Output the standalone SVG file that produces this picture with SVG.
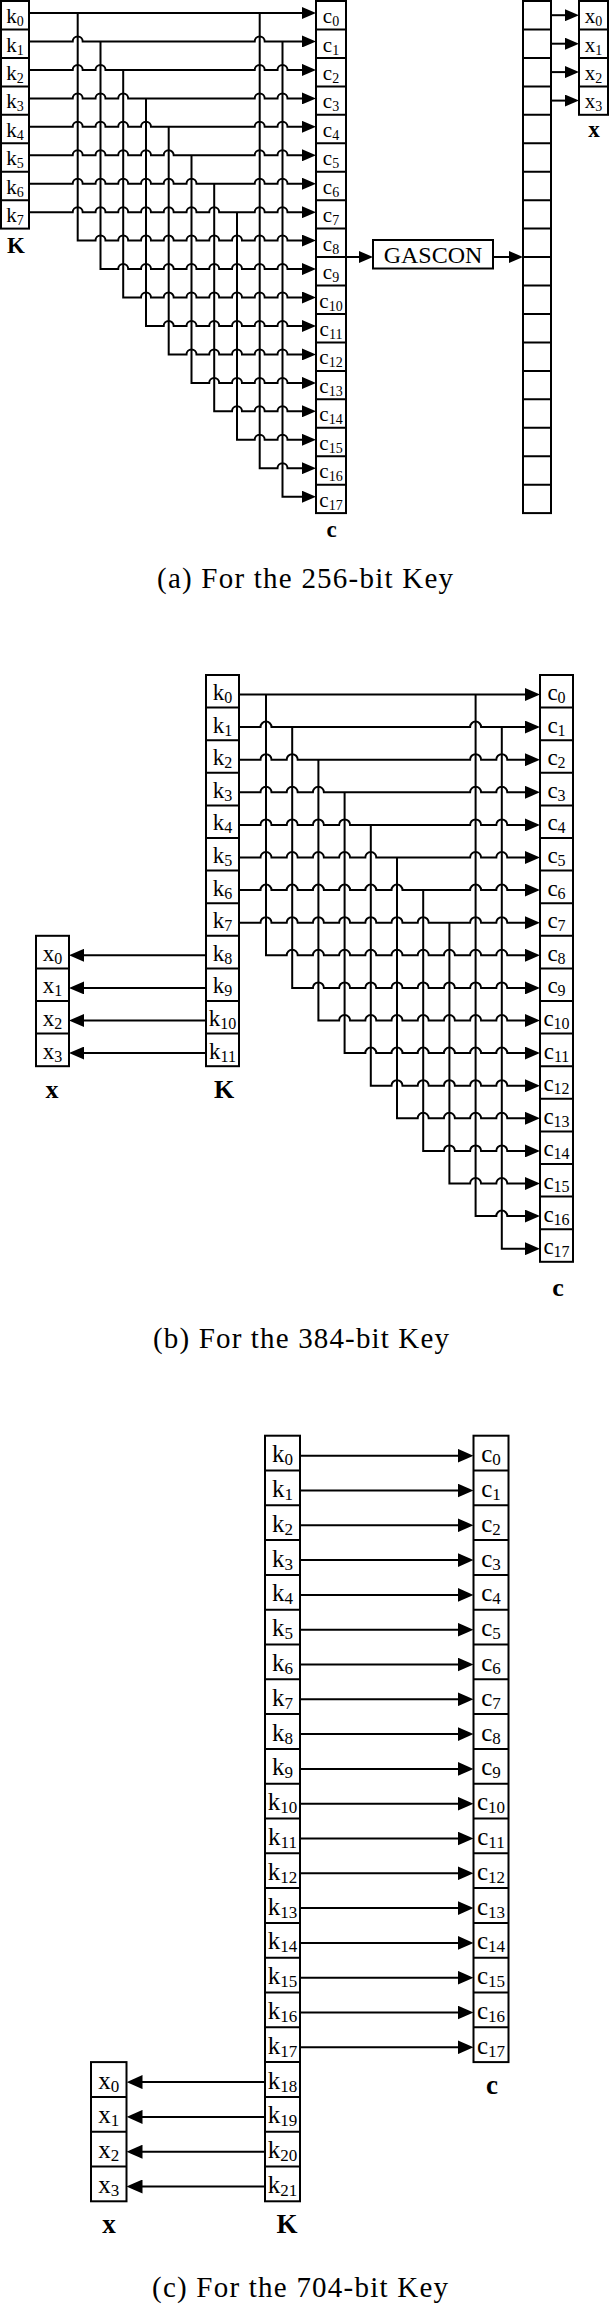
<svg xmlns="http://www.w3.org/2000/svg" width="609" height="2304" viewBox="0 0 609 2304">
<style>
text{font-family:'Liberation Serif','Times New Roman',serif;fill:#000}
.m{text-anchor:middle}
.a{font-size:21px}.a .s{font-size:14px}
.b{font-size:23px}.b .s{font-size:16px}
.c{font-size:25px}.c .s{font-size:17px}
.box{fill:#fff;stroke:#000;stroke-width:2}
.sep{fill:none;stroke:#000;stroke-width:2}
.w{fill:none;stroke:#000;stroke-width:2}
.wa{marker-end:url(#ha)}.wb{marker-end:url(#hb)}.wc{marker-end:url(#hc)}
.lbl{font-weight:bold;text-anchor:middle}
.cap{font-size:29px;text-anchor:middle}
.gas{font-size:24px;text-anchor:middle}
</style>
<defs>
<marker id="ha" markerUnits="userSpaceOnUse" markerWidth="14" markerHeight="12" refX="10" refY="6" orient="auto" viewBox="0 0 14 12"><path d="M0 0L14 6L0 12z"/></marker>
<marker id="hb" markerUnits="userSpaceOnUse" markerWidth="15" markerHeight="13" refX="11" refY="6.5" orient="auto" viewBox="0 0 15 13"><path d="M0 0L15 6.5L0 13z"/></marker>
<marker id="hc" markerUnits="userSpaceOnUse" markerWidth="16" markerHeight="14" refX="12" refY="7" orient="auto" viewBox="0 0 16 14"><path d="M0 0L16 7L0 14z"/></marker>
</defs>

<!-- ===== (a) 256-bit ===== -->
<g id="a-connectors" class="w">
<path class="wa" d="M29 13H312"/>
<path class="wa" d="M29 41.5H72.7a5 5 0 0 1 10 0H254.7a5 5 0 0 1 10 0H312"/>
<path class="wa" d="M29 69.9H72.7a5 5 0 0 1 10 0H95.5a5 5 0 0 1 10 0H254.7a5 5 0 0 1 10 0H277.5a5 5 0 0 1 10 0H312"/>
<path class="wa" d="M29 98.4H72.7a5 5 0 0 1 10 0H95.5a5 5 0 0 1 10 0H118.2a5 5 0 0 1 10 0H254.7a5 5 0 0 1 10 0H277.5a5 5 0 0 1 10 0H312"/>
<path class="wa" d="M29 126.8H72.7a5 5 0 0 1 10 0H95.5a5 5 0 0 1 10 0H118.2a5 5 0 0 1 10 0H141a5 5 0 0 1 10 0H254.7a5 5 0 0 1 10 0H277.5a5 5 0 0 1 10 0H312"/>
<path class="wa" d="M29 155.3H72.7a5 5 0 0 1 10 0H95.5a5 5 0 0 1 10 0H118.2a5 5 0 0 1 10 0H141a5 5 0 0 1 10 0H163.7a5 5 0 0 1 10 0H254.7a5 5 0 0 1 10 0H277.5a5 5 0 0 1 10 0H312"/>
<path class="wa" d="M29 183.7H72.7a5 5 0 0 1 10 0H95.5a5 5 0 0 1 10 0H118.2a5 5 0 0 1 10 0H141a5 5 0 0 1 10 0H163.7a5 5 0 0 1 10 0H186.5a5 5 0 0 1 10 0H254.7a5 5 0 0 1 10 0H277.5a5 5 0 0 1 10 0H312"/>
<path class="wa" d="M29 212.2H72.7a5 5 0 0 1 10 0H95.5a5 5 0 0 1 10 0H118.2a5 5 0 0 1 10 0H141a5 5 0 0 1 10 0H163.7a5 5 0 0 1 10 0H186.5a5 5 0 0 1 10 0H209.2a5 5 0 0 1 10 0H254.7a5 5 0 0 1 10 0H277.5a5 5 0 0 1 10 0H312"/>
<path class="wa" d="M77.7 13V240.6H95.5a5 5 0 0 1 10 0H118.2a5 5 0 0 1 10 0H141a5 5 0 0 1 10 0H163.7a5 5 0 0 1 10 0H186.5a5 5 0 0 1 10 0H209.2a5 5 0 0 1 10 0H232a5 5 0 0 1 10 0H254.7a5 5 0 0 1 10 0H277.5a5 5 0 0 1 10 0H312"/>
<path class="wa" d="M100.5 41.5V269.1H118.2a5 5 0 0 1 10 0H141a5 5 0 0 1 10 0H163.7a5 5 0 0 1 10 0H186.5a5 5 0 0 1 10 0H209.2a5 5 0 0 1 10 0H232a5 5 0 0 1 10 0H254.7a5 5 0 0 1 10 0H277.5a5 5 0 0 1 10 0H312"/>
<path class="wa" d="M123.2 69.9V297.5H141a5 5 0 0 1 10 0H163.7a5 5 0 0 1 10 0H186.5a5 5 0 0 1 10 0H209.2a5 5 0 0 1 10 0H232a5 5 0 0 1 10 0H254.7a5 5 0 0 1 10 0H277.5a5 5 0 0 1 10 0H312"/>
<path class="wa" d="M146 98.4V326H163.7a5 5 0 0 1 10 0H186.5a5 5 0 0 1 10 0H209.2a5 5 0 0 1 10 0H232a5 5 0 0 1 10 0H254.7a5 5 0 0 1 10 0H277.5a5 5 0 0 1 10 0H312"/>
<path class="wa" d="M168.7 126.8V354.4H186.5a5 5 0 0 1 10 0H209.2a5 5 0 0 1 10 0H232a5 5 0 0 1 10 0H254.7a5 5 0 0 1 10 0H277.5a5 5 0 0 1 10 0H312"/>
<path class="wa" d="M191.5 155.3V382.9H209.2a5 5 0 0 1 10 0H232a5 5 0 0 1 10 0H254.7a5 5 0 0 1 10 0H277.5a5 5 0 0 1 10 0H312"/>
<path class="wa" d="M214.2 183.7V411.3H232a5 5 0 0 1 10 0H254.7a5 5 0 0 1 10 0H277.5a5 5 0 0 1 10 0H312"/>
<path class="wa" d="M237 212.2V439.8H254.7a5 5 0 0 1 10 0H277.5a5 5 0 0 1 10 0H312"/>
<path class="wa" d="M259.7 13V468.2H277.5a5 5 0 0 1 10 0H312"/>
<path class="wa" d="M282.5 41.5V496.7H312"/>
<path class="wa" d="M346 257H369"/>
<path class="wa" d="M493 257H519"/>
<path class="wa" d="M551 15.2H575"/>
<path class="wa" d="M551 43.7H575"/>
<path class="wa" d="M551 72.1H575"/>
<path class="wa" d="M551 100.6H575"/>
</g>

<g id="a-K" class="a">
<rect class="box" x="1" y="1" width="28" height="227.6"/>
<path class="sep" d="M1 29.5h28M1 57.9h28M1 86.4h28M1 114.8h28M1 143.3h28M1 171.7h28M1 200.2h28"/>
<g class="m">
<text x="15" y="23">k<tspan class="s" dy="3">0</tspan></text>
<text x="15" y="51.5">k<tspan class="s" dy="3">1</tspan></text>
<text x="15" y="79.9">k<tspan class="s" dy="3">2</tspan></text>
<text x="15" y="108.4">k<tspan class="s" dy="3">3</tspan></text>
<text x="15" y="136.8">k<tspan class="s" dy="3">4</tspan></text>
<text x="15" y="165.3">k<tspan class="s" dy="3">5</tspan></text>
<text x="15" y="193.7">k<tspan class="s" dy="3">6</tspan></text>
<text x="15" y="222.2">k<tspan class="s" dy="3">7</tspan></text>
</g>
<text class="lbl" x="16" y="253" font-size="23">K</text>
</g>

<g id="a-c" class="a">
<rect class="box" x="316" y="1" width="30" height="512.1"/>
<path class="sep" d="M316 29.5h30M316 57.9h30M316 86.4h30M316 114.8h30M316 143.3h30M316 171.7h30M316 200.2h30M316 228.6h30M316 257.1h30M316 285.5h30M316 314h30M316 342.4h30M316 370.9h30M316 399.3h30M316 427.8h30M316 456.2h30M316 484.7h30"/>
<g class="m">
<text x="331" y="23">c<tspan class="s" dy="3">0</tspan></text>
<text x="331" y="51.5">c<tspan class="s" dy="3">1</tspan></text>
<text x="331" y="79.9">c<tspan class="s" dy="3">2</tspan></text>
<text x="331" y="108.4">c<tspan class="s" dy="3">3</tspan></text>
<text x="331" y="136.8">c<tspan class="s" dy="3">4</tspan></text>
<text x="331" y="165.3">c<tspan class="s" dy="3">5</tspan></text>
<text x="331" y="193.7">c<tspan class="s" dy="3">6</tspan></text>
<text x="331" y="222.2">c<tspan class="s" dy="3">7</tspan></text>
<text x="331" y="250.6">c<tspan class="s" dy="3">8</tspan></text>
<text x="331" y="279.1">c<tspan class="s" dy="3">9</tspan></text>
<text x="331" y="307.5">c<tspan class="s" dy="3">10</tspan></text>
<text x="331" y="336">c<tspan class="s" dy="3">11</tspan></text>
<text x="331" y="364.4">c<tspan class="s" dy="3">12</tspan></text>
<text x="331" y="392.9">c<tspan class="s" dy="3">13</tspan></text>
<text x="331" y="421.3">c<tspan class="s" dy="3">14</tspan></text>
<text x="331" y="449.8">c<tspan class="s" dy="3">15</tspan></text>
<text x="331" y="478.2">c<tspan class="s" dy="3">16</tspan></text>
<text x="331" y="506.7">c<tspan class="s" dy="3">17</tspan></text>
</g>
<text class="lbl" x="331.5" y="537" font-size="23">c</text>
</g>

<g id="a-gascon">
<rect class="box" x="373" y="240" width="120" height="28.5"/>
<text class="gas" x="433" y="262.5">GASCON</text>
</g>

<g id="a-state">
<rect class="box" x="523" y="1" width="28" height="512.1"/>
<path class="sep" d="M523 29.5h28M523 57.9h28M523 86.4h28M523 114.8h28M523 143.3h28M523 171.7h28M523 200.2h28M523 228.6h28M523 257.1h28M523 285.5h28M523 314h28M523 342.4h28M523 370.9h28M523 399.3h28M523 427.8h28M523 456.2h28M523 484.7h28"/>
</g>

<g id="a-x" class="a">
<rect class="box" x="579" y="1" width="29" height="113.8"/>
<path class="sep" d="M579 29.5h29M579 57.9h29M579 86.4h29"/>
<g class="m">
<text x="593.5" y="23">x<tspan class="s" dy="3">0</tspan></text>
<text x="593.5" y="51.5">x<tspan class="s" dy="3">1</tspan></text>
<text x="593.5" y="79.9">x<tspan class="s" dy="3">2</tspan></text>
<text x="593.5" y="108.4">x<tspan class="s" dy="3">3</tspan></text>
</g>
<text class="lbl" x="594" y="136.5" font-size="23">x</text>
</g>

<text id="cap-a" class="cap" x="305" y="588" textLength="296" lengthAdjust="spacing">(a) For the 256-bit Key</text>

<!-- ===== (b) 384-bit ===== -->
<g id="b-connectors" class="w">
<path class="wb" d="M239 694.5H536"/>
<path class="wb" d="M239 727.1H260.5a5.5 5.5 0 0 1 11 0H470.1a5.5 5.5 0 0 1 11 0H536"/>
<path class="wb" d="M239 759.7H260.5a5.5 5.5 0 0 1 11 0H286.7a5.5 5.5 0 0 1 11 0H470.1a5.5 5.5 0 0 1 11 0H496.3a5.5 5.5 0 0 1 11 0H536"/>
<path class="wb" d="M239 792.3H260.5a5.5 5.5 0 0 1 11 0H286.7a5.5 5.5 0 0 1 11 0H312.9a5.5 5.5 0 0 1 11 0H470.1a5.5 5.5 0 0 1 11 0H496.3a5.5 5.5 0 0 1 11 0H536"/>
<path class="wb" d="M239 824.9H260.5a5.5 5.5 0 0 1 11 0H286.7a5.5 5.5 0 0 1 11 0H312.9a5.5 5.5 0 0 1 11 0H339.1a5.5 5.5 0 0 1 11 0H470.1a5.5 5.5 0 0 1 11 0H496.3a5.5 5.5 0 0 1 11 0H536"/>
<path class="wb" d="M239 857.5H260.5a5.5 5.5 0 0 1 11 0H286.7a5.5 5.5 0 0 1 11 0H312.9a5.5 5.5 0 0 1 11 0H339.1a5.5 5.5 0 0 1 11 0H365.3a5.5 5.5 0 0 1 11 0H470.1a5.5 5.5 0 0 1 11 0H496.3a5.5 5.5 0 0 1 11 0H536"/>
<path class="wb" d="M239 890.1H260.5a5.5 5.5 0 0 1 11 0H286.7a5.5 5.5 0 0 1 11 0H312.9a5.5 5.5 0 0 1 11 0H339.1a5.5 5.5 0 0 1 11 0H365.3a5.5 5.5 0 0 1 11 0H391.5a5.5 5.5 0 0 1 11 0H470.1a5.5 5.5 0 0 1 11 0H496.3a5.5 5.5 0 0 1 11 0H536"/>
<path class="wb" d="M239 922.7H260.5a5.5 5.5 0 0 1 11 0H286.7a5.5 5.5 0 0 1 11 0H312.9a5.5 5.5 0 0 1 11 0H339.1a5.5 5.5 0 0 1 11 0H365.3a5.5 5.5 0 0 1 11 0H391.5a5.5 5.5 0 0 1 11 0H417.7a5.5 5.5 0 0 1 11 0H470.1a5.5 5.5 0 0 1 11 0H496.3a5.5 5.5 0 0 1 11 0H536"/>
<path class="wb" d="M266 694.5V955.3H286.7a5.5 5.5 0 0 1 11 0H312.9a5.5 5.5 0 0 1 11 0H339.1a5.5 5.5 0 0 1 11 0H365.3a5.5 5.5 0 0 1 11 0H391.5a5.5 5.5 0 0 1 11 0H417.7a5.5 5.5 0 0 1 11 0H443.9a5.5 5.5 0 0 1 11 0H470.1a5.5 5.5 0 0 1 11 0H496.3a5.5 5.5 0 0 1 11 0H536"/>
<path class="wb" d="M292.2 727.1V987.9H312.9a5.5 5.5 0 0 1 11 0H339.1a5.5 5.5 0 0 1 11 0H365.3a5.5 5.5 0 0 1 11 0H391.5a5.5 5.5 0 0 1 11 0H417.7a5.5 5.5 0 0 1 11 0H443.9a5.5 5.5 0 0 1 11 0H470.1a5.5 5.5 0 0 1 11 0H496.3a5.5 5.5 0 0 1 11 0H536"/>
<path class="wb" d="M318.4 759.7V1020.5H339.1a5.5 5.5 0 0 1 11 0H365.3a5.5 5.5 0 0 1 11 0H391.5a5.5 5.5 0 0 1 11 0H417.7a5.5 5.5 0 0 1 11 0H443.9a5.5 5.5 0 0 1 11 0H470.1a5.5 5.5 0 0 1 11 0H496.3a5.5 5.5 0 0 1 11 0H536"/>
<path class="wb" d="M344.6 792.3V1053.1H365.3a5.5 5.5 0 0 1 11 0H391.5a5.5 5.5 0 0 1 11 0H417.7a5.5 5.5 0 0 1 11 0H443.9a5.5 5.5 0 0 1 11 0H470.1a5.5 5.5 0 0 1 11 0H496.3a5.5 5.5 0 0 1 11 0H536"/>
<path class="wb" d="M370.8 824.9V1085.7H391.5a5.5 5.5 0 0 1 11 0H417.7a5.5 5.5 0 0 1 11 0H443.9a5.5 5.5 0 0 1 11 0H470.1a5.5 5.5 0 0 1 11 0H496.3a5.5 5.5 0 0 1 11 0H536"/>
<path class="wb" d="M397 857.5V1118.3H417.7a5.5 5.5 0 0 1 11 0H443.9a5.5 5.5 0 0 1 11 0H470.1a5.5 5.5 0 0 1 11 0H496.3a5.5 5.5 0 0 1 11 0H536"/>
<path class="wb" d="M423.2 890.1V1150.9H443.9a5.5 5.5 0 0 1 11 0H470.1a5.5 5.5 0 0 1 11 0H496.3a5.5 5.5 0 0 1 11 0H536"/>
<path class="wb" d="M449.4 922.7V1183.5H470.1a5.5 5.5 0 0 1 11 0H496.3a5.5 5.5 0 0 1 11 0H536"/>
<path class="wb" d="M475.6 694.5V1216.1H496.3a5.5 5.5 0 0 1 11 0H536"/>
<path class="wb" d="M501.8 727.1V1248.7H536"/>
<path class="wb" d="M206 955.3H73"/>
<path class="wb" d="M206 987.9H73"/>
<path class="wb" d="M206 1020.5H73"/>
<path class="wb" d="M206 1053.1H73"/>
</g>

<g id="b-K" class="b">
<rect class="box" x="206" y="675" width="33" height="391.2"/>
<path class="sep" d="M206 707.6h33M206 740.2h33M206 772.8h33M206 805.4h33M206 838h33M206 870.6h33M206 903.2h33M206 935.8h33M206 968.4h33M206 1001h33M206 1033.6h33"/>
<g class="m">
<text x="222.5" y="700">k<tspan class="s" dy="3">0</tspan></text>
<text x="222.5" y="732.6">k<tspan class="s" dy="3">1</tspan></text>
<text x="222.5" y="765.2">k<tspan class="s" dy="3">2</tspan></text>
<text x="222.5" y="797.8">k<tspan class="s" dy="3">3</tspan></text>
<text x="222.5" y="830.4">k<tspan class="s" dy="3">4</tspan></text>
<text x="222.5" y="863">k<tspan class="s" dy="3">5</tspan></text>
<text x="222.5" y="895.6">k<tspan class="s" dy="3">6</tspan></text>
<text x="222.5" y="928.2">k<tspan class="s" dy="3">7</tspan></text>
<text x="222.5" y="960.8">k<tspan class="s" dy="3">8</tspan></text>
<text x="222.5" y="993.4">k<tspan class="s" dy="3">9</tspan></text>
<text x="222.5" y="1026">k<tspan class="s" dy="3">10</tspan></text>
<text x="222.5" y="1058.6">k<tspan class="s" dy="3">11</tspan></text>
</g>
<text class="lbl" x="224" y="1098" font-size="26">K</text>
</g>

<g id="b-c" class="b">
<rect class="box" x="540" y="675" width="33" height="586.8"/>
<path class="sep" d="M540 707.6h33M540 740.2h33M540 772.8h33M540 805.4h33M540 838h33M540 870.6h33M540 903.2h33M540 935.8h33M540 968.4h33M540 1001h33M540 1033.6h33M540 1066.2h33M540 1098.8h33M540 1131.4h33M540 1164h33M540 1196.6h33M540 1229.2h33"/>
<g class="m">
<text x="556.5" y="700">c<tspan class="s" dy="3">0</tspan></text>
<text x="556.5" y="732.6">c<tspan class="s" dy="3">1</tspan></text>
<text x="556.5" y="765.2">c<tspan class="s" dy="3">2</tspan></text>
<text x="556.5" y="797.8">c<tspan class="s" dy="3">3</tspan></text>
<text x="556.5" y="830.4">c<tspan class="s" dy="3">4</tspan></text>
<text x="556.5" y="863">c<tspan class="s" dy="3">5</tspan></text>
<text x="556.5" y="895.6">c<tspan class="s" dy="3">6</tspan></text>
<text x="556.5" y="928.2">c<tspan class="s" dy="3">7</tspan></text>
<text x="556.5" y="960.8">c<tspan class="s" dy="3">8</tspan></text>
<text x="556.5" y="993.4">c<tspan class="s" dy="3">9</tspan></text>
<text x="556.5" y="1026">c<tspan class="s" dy="3">10</tspan></text>
<text x="556.5" y="1058.6">c<tspan class="s" dy="3">11</tspan></text>
<text x="556.5" y="1091.2">c<tspan class="s" dy="3">12</tspan></text>
<text x="556.5" y="1123.8">c<tspan class="s" dy="3">13</tspan></text>
<text x="556.5" y="1156.4">c<tspan class="s" dy="3">14</tspan></text>
<text x="556.5" y="1189">c<tspan class="s" dy="3">15</tspan></text>
<text x="556.5" y="1221.6">c<tspan class="s" dy="3">16</tspan></text>
<text x="556.5" y="1254.2">c<tspan class="s" dy="3">17</tspan></text>
</g>
<text class="lbl" x="558" y="1296" font-size="26">c</text>
</g>

<g id="b-x" class="b">
<rect class="box" x="36" y="935.8" width="33" height="130.4"/>
<path class="sep" d="M36 968.4h33M36 1001h33M36 1033.6h33"/>
<g class="m">
<text x="52.5" y="960.8">x<tspan class="s" dy="3">0</tspan></text>
<text x="52.5" y="993.4">x<tspan class="s" dy="3">1</tspan></text>
<text x="52.5" y="1026">x<tspan class="s" dy="3">2</tspan></text>
<text x="52.5" y="1058.6">x<tspan class="s" dy="3">3</tspan></text>
</g>
<text class="lbl" x="52" y="1098" font-size="26">x</text>
</g>

<text id="cap-b" class="cap" x="301" y="1348" textLength="296" lengthAdjust="spacing">(b) For the 384-bit Key</text>

<!-- ===== (c) 704-bit ===== -->
<g id="c-connectors" class="w">
<path class="wc" d="M300 1455.7H469.5"/>
<path class="wc" d="M300 1490.5H469.5"/>
<path class="wc" d="M300 1525.3H469.5"/>
<path class="wc" d="M300 1560.1H469.5"/>
<path class="wc" d="M300 1594.9H469.5"/>
<path class="wc" d="M300 1629.7H469.5"/>
<path class="wc" d="M300 1664.5H469.5"/>
<path class="wc" d="M300 1699.3H469.5"/>
<path class="wc" d="M300 1734.1H469.5"/>
<path class="wc" d="M300 1768.9H469.5"/>
<path class="wc" d="M300 1803.7H469.5"/>
<path class="wc" d="M300 1838.5H469.5"/>
<path class="wc" d="M300 1873.3H469.5"/>
<path class="wc" d="M300 1908.1H469.5"/>
<path class="wc" d="M300 1942.9H469.5"/>
<path class="wc" d="M300 1977.7H469.5"/>
<path class="wc" d="M300 2012.5H469.5"/>
<path class="wc" d="M300 2047.3H469.5"/>
<path class="wc" d="M265 2082.1H130.5"/>
<path class="wc" d="M265 2116.9H130.5"/>
<path class="wc" d="M265 2151.7H130.5"/>
<path class="wc" d="M265 2186.5H130.5"/>
</g>

<g id="c-K" class="c">
<rect class="box" x="265" y="1435.7" width="35" height="765.6"/>
<path class="sep" d="M265 1470.5h35M265 1505.3h35M265 1540.1h35M265 1574.9h35M265 1609.7h35M265 1644.5h35M265 1679.3h35M265 1714.1h35M265 1748.9h35M265 1783.7h35M265 1818.5h35M265 1853.3h35M265 1888.1h35M265 1922.9h35M265 1957.7h35M265 1992.5h35M265 2027.3h35M265 2062.1h35M265 2096.9h35M265 2131.7h35M265 2166.5h35"/>
<g class="m">
<text x="282.5" y="1462.2">k<tspan class="s" dy="3">0</tspan></text>
<text x="282.5" y="1497">k<tspan class="s" dy="3">1</tspan></text>
<text x="282.5" y="1531.8">k<tspan class="s" dy="3">2</tspan></text>
<text x="282.5" y="1566.6">k<tspan class="s" dy="3">3</tspan></text>
<text x="282.5" y="1601.4">k<tspan class="s" dy="3">4</tspan></text>
<text x="282.5" y="1636.2">k<tspan class="s" dy="3">5</tspan></text>
<text x="282.5" y="1671">k<tspan class="s" dy="3">6</tspan></text>
<text x="282.5" y="1705.8">k<tspan class="s" dy="3">7</tspan></text>
<text x="282.5" y="1740.6">k<tspan class="s" dy="3">8</tspan></text>
<text x="282.5" y="1775.4">k<tspan class="s" dy="3">9</tspan></text>
<text x="282.5" y="1810.2">k<tspan class="s" dy="3">10</tspan></text>
<text x="282.5" y="1845">k<tspan class="s" dy="3">11</tspan></text>
<text x="282.5" y="1879.8">k<tspan class="s" dy="3">12</tspan></text>
<text x="282.5" y="1914.6">k<tspan class="s" dy="3">13</tspan></text>
<text x="282.5" y="1949.4">k<tspan class="s" dy="3">14</tspan></text>
<text x="282.5" y="1984.2">k<tspan class="s" dy="3">15</tspan></text>
<text x="282.5" y="2019">k<tspan class="s" dy="3">16</tspan></text>
<text x="282.5" y="2053.8">k<tspan class="s" dy="3">17</tspan></text>
<text x="282.5" y="2088.6">k<tspan class="s" dy="3">18</tspan></text>
<text x="282.5" y="2123.4">k<tspan class="s" dy="3">19</tspan></text>
<text x="282.5" y="2158.2">k<tspan class="s" dy="3">20</tspan></text>
<text x="282.5" y="2193">k<tspan class="s" dy="3">21</tspan></text>
</g>
<text class="lbl" x="287" y="2233" font-size="27">K</text>
</g>

<g id="c-c" class="c">
<rect class="box" x="473.5" y="1435.7" width="35" height="626.4"/>
<path class="sep" d="M473.5 1470.5h35M473.5 1505.3h35M473.5 1540.1h35M473.5 1574.9h35M473.5 1609.7h35M473.5 1644.5h35M473.5 1679.3h35M473.5 1714.1h35M473.5 1748.9h35M473.5 1783.7h35M473.5 1818.5h35M473.5 1853.3h35M473.5 1888.1h35M473.5 1922.9h35M473.5 1957.7h35M473.5 1992.5h35M473.5 2027.3h35"/>
<g class="m">
<text x="491" y="1462.2">c<tspan class="s" dy="3">0</tspan></text>
<text x="491" y="1497">c<tspan class="s" dy="3">1</tspan></text>
<text x="491" y="1531.8">c<tspan class="s" dy="3">2</tspan></text>
<text x="491" y="1566.6">c<tspan class="s" dy="3">3</tspan></text>
<text x="491" y="1601.4">c<tspan class="s" dy="3">4</tspan></text>
<text x="491" y="1636.2">c<tspan class="s" dy="3">5</tspan></text>
<text x="491" y="1671">c<tspan class="s" dy="3">6</tspan></text>
<text x="491" y="1705.8">c<tspan class="s" dy="3">7</tspan></text>
<text x="491" y="1740.6">c<tspan class="s" dy="3">8</tspan></text>
<text x="491" y="1775.4">c<tspan class="s" dy="3">9</tspan></text>
<text x="491" y="1810.2">c<tspan class="s" dy="3">10</tspan></text>
<text x="491" y="1845">c<tspan class="s" dy="3">11</tspan></text>
<text x="491" y="1879.8">c<tspan class="s" dy="3">12</tspan></text>
<text x="491" y="1914.6">c<tspan class="s" dy="3">13</tspan></text>
<text x="491" y="1949.4">c<tspan class="s" dy="3">14</tspan></text>
<text x="491" y="1984.2">c<tspan class="s" dy="3">15</tspan></text>
<text x="491" y="2019">c<tspan class="s" dy="3">16</tspan></text>
<text x="491" y="2053.8">c<tspan class="s" dy="3">17</tspan></text>
</g>
<text class="lbl" x="492" y="2094" font-size="27">c</text>
</g>

<g id="c-x" class="c">
<rect class="box" x="91" y="2062.1" width="35.5" height="139.2"/>
<path class="sep" d="M91 2096.9h35.5M91 2131.7h35.5M91 2166.5h35.5"/>
<g class="m">
<text x="108.75" y="2088.6">x<tspan class="s" dy="3">0</tspan></text>
<text x="108.75" y="2123.4">x<tspan class="s" dy="3">1</tspan></text>
<text x="108.75" y="2158.2">x<tspan class="s" dy="3">2</tspan></text>
<text x="108.75" y="2193">x<tspan class="s" dy="3">3</tspan></text>
</g>
<text class="lbl" x="109" y="2233" font-size="27">x</text>
</g>

<text id="cap-c" class="cap" x="300" y="2297" textLength="296" lengthAdjust="spacing">(c) For the 704-bit Key</text>
</svg>
